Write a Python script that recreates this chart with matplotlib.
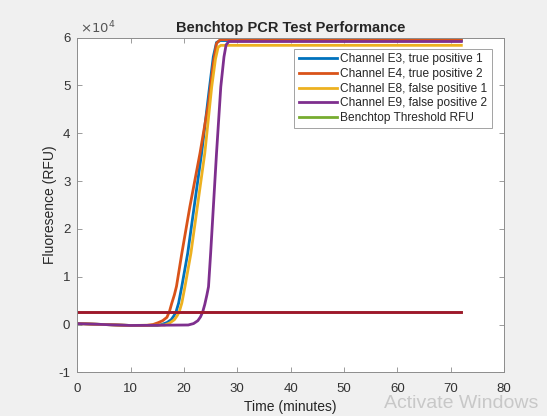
import matplotlib
matplotlib.use("Agg")
import matplotlib.pyplot as plt

plt.rcParams['font.family'] = ['Liberation Sans', 'DejaVu Sans']
plt.rcParams['axes.unicode_minus'] = False

# Data (fluorescence in units of 10^4 RFU), time in minutes
t_e3 = [0, 5, 10, 15, 15.8, 16.8, 17.6, 18.1, 18.5, 19.0, 19.6, 20.7, 23.3, 24.8, 25.5, 26.1, 26.8, 72]
f_e3 = [0.02, 0.0, -0.02, -0.02, 0.0, 0.04, 0.10, 0.18, 0.26, 0.45, 0.80, 1.49, 3.58, 4.97, 5.60, 5.90, 5.94, 5.94]

t_e4 = [0, 5, 10, 13, 14.2, 15.2, 16.0, 16.8, 17.3, 17.7, 18.2, 18.6, 19.6, 21.1, 23.0, 24.6, 25.5, 26.1, 26.8, 72]
f_e4 = [0.02, 0.0, -0.02, -0.02, 0.0, 0.04, 0.08, 0.15, 0.28, 0.44, 0.62, 0.80, 1.49, 2.46, 3.58, 4.63, 5.46, 5.88, 5.96, 5.96]

t_e8 = [0, 5, 10, 16.4, 17.3, 18.2, 18.7, 19.1, 19.6, 20.2, 21.3, 23.9, 25.2, 25.9, 26.4, 26.9, 72]
f_e8 = [0.02, 0.0, -0.02, -0.01, 0.03, 0.10, 0.18, 0.26, 0.45, 0.80, 1.49, 3.58, 4.97, 5.55, 5.80, 5.84, 5.84]

t_e9 = [0, 5, 10, 20.8, 21.8, 22.6, 23.1, 23.5, 23.9, 24.3, 24.6, 25.0, 26.1, 26.9, 27.5, 27.9, 28.4, 72]
f_e9 = [0.02, 0.0, -0.02, -0.01, 0.02, 0.08, 0.16, 0.26, 0.42, 0.62, 0.79, 1.49, 3.58, 4.97, 5.60, 5.85, 5.92, 5.92]

t_thr = [0, 72]
f_thr = [0.26, 0.26]

labels = ['Channel E3, true positive 1', 'Channel E4, true positive 2',
          'Channel E8, false positive 1', 'Channel E9, false positive 2',
          'Benchtop Threshold RFU']
xticks = [0, 10, 20, 30, 40, 50, 60, 70, 80]
yticks = [-1, 0, 1, 2, 3, 4, 5, 6]

fig = plt.figure(figsize=(5.47, 4.16), dpi=100, facecolor='#f0f0f0')
ax = fig.add_axes([0.1413, 0.105, 0.7801, 0.8044])
ax.set_facecolor('white')

lw = 2.0
ax.plot(t_e3, f_e3, color='#0072BD', lw=lw, label=labels[0])
ax.plot(t_e4, f_e4, color='#D95319', lw=lw, label=labels[1])
ax.plot(t_e8, f_e8, color='#EDB120', lw=lw, label=labels[2])
ax.plot(t_e9, f_e9, color='#7E2F8E', lw=lw, label=labels[3])
ax.plot(t_thr, f_thr, color='#77AC30', lw=lw, label=labels[4])
ax.plot(t_thr, f_thr, color='#A2142F', lw=lw)

ax.set_xlim(0, 80)
ax.set_ylim(-1, 6)
ax.set_xticks(xticks)
ax.set_yticks(yticks)
ax.tick_params(direction='in', top=True, right=True, length=3.5, width=0.6,
               colors='#8c8c8c', labelcolor='#333333', labelsize=9.5)
ax.tick_params(axis='x', pad=8)
ax.tick_params(axis='y', pad=5)
for s in ax.spines.values():
    s.set_color('#8c8c8c')
    s.set_linewidth(0.7)

ax.set_title('Benchtop PCR Test Performance', fontsize=10.5, fontweight='bold',
             color='#262626', pad=4)
ax.set_xlabel('Time (minutes)', fontsize=10, color='#262626', labelpad=3)
ax.set_ylabel('Fluoresence (RFU)', fontsize=10, color='#262626', labelpad=1)

fig.text(0.146, 0.912, r'$\times10^4$', fontsize=9.5, color='#555555', ha='left', va='bottom')

leg = ax.legend(loc='upper right', bbox_to_anchor=(0.971, 0.9653), borderaxespad=0,
                fontsize=8.6, frameon=True, fancybox=False, handlelength=3.2,
                handletextpad=0.3, labelspacing=0.22, borderpad=0.35)
leg.get_frame().set_edgecolor('#8c8c8c')
leg.get_frame().set_linewidth(0.7)
for txt in leg.get_texts():
    txt.set_color('#262626')

fig.text(0.985, 0.01, 'Activate Windows', fontsize=14, color='#c8c8c8', ha='right', va='bottom')

fig.savefig('out.png', dpi=100, facecolor=fig.get_facecolor())
